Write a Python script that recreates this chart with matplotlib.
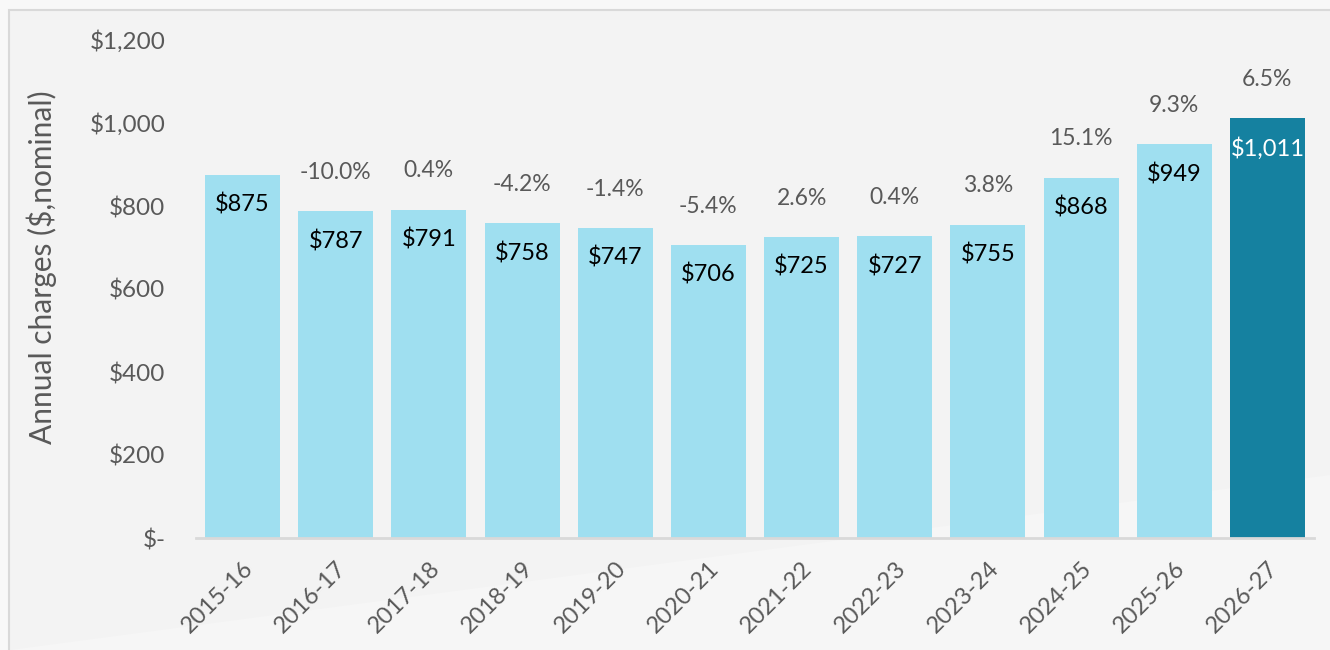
import matplotlib.pyplot as plt
from matplotlib.patches import Rectangle, Polygon
from matplotlib.ticker import FuncFormatter

# Annual charges by year
years = ["2015-16", "2016-17", "2017-18", "2018-19", "2019-20", "2020-21",
         "2021-22", "2022-23", "2023-24", "2024-25", "2025-26", "2026-27"]
charges = [875, 787, 791, 758, 747, 706, 725, 727, 755, 868, 949, 1011]
changes = [None, "-10.0%", "0.4%", "-4.2%", "-1.4%", "-5.4%", "2.6%", "0.4%",
           "3.8%", "15.1%", "9.3%", "6.5%"]

plt.rcParams['font.family'] = ['Lato', 'DejaVu Sans']

light = "#9fdff0"
dark = "#1581a0"
grey_txt = "#595959"

fig = plt.figure(figsize=(13.3, 6.5), dpi=100)
fig.patch.set_facecolor("#f8f8f8")

# slide-like background panel with a faint diagonal highlight
fig.patches.append(Rectangle((9 / 1330, -0.1), 1.2, 1 - 10 / 650 + 0.1, transform=fig.transFigure,
                             facecolor="#f3f3f3", edgecolor="#d9d9d9", linewidth=1.5, zorder=-10))
fig.patches.append(Polygon([(10 / 1330, 0), (1, 0), (1, 0.27)], closed=True, transform=fig.transFigure,
                           facecolor="#f6f6f6", edgecolor="none", zorder=-9))

ax = fig.add_axes([196 / 1330, 1 - 538 / 650, (1314 - 196) / 1330, (538 - 40) / 650])
ax.set_facecolor("none")

x = range(len(years))
colors = [light] * (len(years) - 1) + [dark]
bars = ax.bar(x, charges, width=0.805, color=colors, zorder=2)

for i, (v, c) in enumerate(zip(charges, changes)):
    tc = "white" if i == len(years) - 1 else "black"
    ax.annotate(f"${v:,}", (i, v), xytext=(0, -21.5), textcoords="offset points",
                ha="center", va="center", fontsize=17, color=tc)
    if c is not None:
        ax.annotate(c, (i, v), xytext=(0, 28), textcoords="offset points",
                    ha="center", va="center", fontsize=16.5, color=grey_txt)

ax.set_xlim(-0.5, 11.5)
ax.set_ylim(0, 1200)
ax.set_yticks(range(0, 1201, 200))
ax.yaxis.set_major_formatter(FuncFormatter(lambda v, p: "$-" if v == 0 else f"${v:,.0f}"))
ax.set_xticks(list(x))
ax.set_xticklabels(years, rotation=45, ha="right", rotation_mode="anchor")

ax.tick_params(axis="y", length=0, pad=22, labelsize=17.5, labelcolor=grey_txt)
ax.tick_params(axis="x", length=0, pad=14, labelsize=17, labelcolor=grey_txt)

for s in ["top", "right", "left"]:
    ax.spines[s].set_visible(False)
ax.spines["bottom"].set_color("#d9d9d9")
ax.spines["bottom"].set_linewidth(2)
ax.spines["bottom"].set_zorder(3)

ax.set_ylabel("Annual charges ($,nominal)", fontsize=21.5, color=grey_txt)
ax.yaxis.set_label_coords(-0.124, 0.544)

fig.savefig("out.png", dpi=100, facecolor=fig.get_facecolor())
plt.close(fig)
